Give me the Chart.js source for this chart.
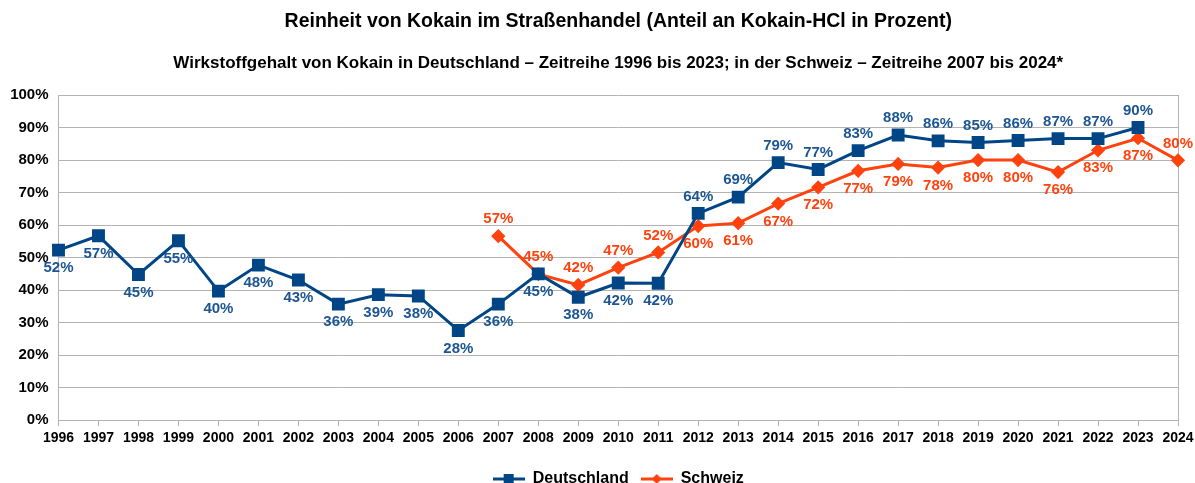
<!DOCTYPE html>
<html>
<head>
<meta charset="utf-8">
<script src="https://cdn.jsdelivr.net/npm/chart.js@4"></script>
<style>
  html, body { margin: 0; padding: 0; background: #fff; }
  #wrap { width: 1195px; height: 483px; }
</style>
</head>
<body>
<div id="wrap"><canvas id="myChart"></canvas></div>
<script>
const years = ['1996', '1997', '1998', '1999', '2000', '2001', '2002', '2003', '2004', '2005',
  '2006', '2007', '2008', '2009', '2010', '2011', '2012', '2013', '2014', '2015',
  '2016', '2017', '2018', '2019', '2020', '2021', '2022', '2023', '2024'];

const deutschland = [52.3, 56.7, 44.8, 55.2, 39.7, 47.7, 43.1, 35.7, 38.6, 38.2,
  27.6, 35.7, 45.0, 37.8, 42.2, 42.1, 63.6, 68.6, 79.2, 77.1,
  82.9, 87.7, 85.9, 85.4, 86.0, 86.6, 86.6, 90.0, null];

const schweiz = [null, null, null, null, null, null, null, null, null, null,
  null, 56.6, 44.9, 41.6, 46.9, 51.6, 59.7, 60.6, 66.6, 71.6,
  76.7, 78.8, 77.7, 80.0, 80.0, 76.3, 83.0, 86.7, 79.9];

const yTicks = [0, 10, 20, 30, 40, 50, 60, 70, 80, 90, 100];

const blue = '#004586';
const orange = '#ff420e';
const gridColor = '#b3b3b3';
const font = 'Liberation Sans, Arial, sans-serif';

// legend symbol: line with the marker in the middle
function legendIcon(color, shape) {
  const c = document.createElement('canvas');
  c.width = 32; c.height = 12;
  const g = c.getContext('2d');
  g.strokeStyle = color; g.lineWidth = 3;
  g.beginPath(); g.moveTo(0, 6); g.lineTo(32, 6); g.stroke();
  g.fillStyle = color;
  g.beginPath();
  if (shape === 'rect') {
    g.rect(11, 1, 10, 10);
  } else {
    g.moveTo(16, 1); g.lineTo(21, 6); g.lineTo(16, 11); g.lineTo(11, 6); g.closePath();
  }
  g.fill();
  return c;
}

// which side the value label sits on
function labelBelow(dsIndex, i) {
  const year = +years[i];
  if (dsIndex === 0) return year <= 2011;
  return year > 2011 && year < 2024;
}

const valueLabels = {
  id: 'valueLabels',
  afterDatasetsDraw(chart) {
    const ctx = chart.ctx;
    ctx.save();
    ctx.font = 'bold 15px ' + font;
    ctx.textAlign = 'center';
    ctx.textBaseline = 'middle';
    chart.data.datasets.forEach((ds, d) => {
      const meta = chart.getDatasetMeta(d);
      meta.data.forEach((pt, i) => {
        const v = ds.data[i];
        if (v === null) return;
        ctx.fillStyle = d === 0 ? '#1c5592' : orange;
        const dy = labelBelow(d, i) ? 18 : -17;
        ctx.fillText(Math.round(v) + '%', pt.x, pt.y + dy);
      });
    });
    ctx.restore();
  }
};

new Chart('myChart', {
  type: 'line',
  data: {
    labels: years,
    datasets: [
      {
        label: 'Deutschland',
        data: deutschland,
        borderColor: blue,
        backgroundColor: blue,
        borderWidth: 3,
        pointStyle: 'rect',
        pointRadius: 7,
        pointHoverRadius: 7,
        tension: 0,
      },
      {
        label: 'Schweiz',
        data: schweiz,
        borderColor: orange,
        backgroundColor: orange,
        borderWidth: 3,
        pointStyle: 'rectRot',
        pointRadius: 5,
        pointHoverRadius: 5,
        tension: 0,
      },
    ],
  },
  options: {
    responsive: true,
    maintainAspectRatio: false,
    animation: false,
    layout: { padding: { left: 0, right: 17, top: 0, bottom: -14 } },
    scales: {
      x: {
        offset: false,
        afterFit: (s) => { s.height = 38.8; s.paddingLeft = 0; s.paddingRight = 0; },
        grid: {
          color: (c) => (c.index === years.length - 1 ? gridColor : 'transparent'),
          tickColor: gridColor,
          tickLength: 6,
        },
        border: { color: gridColor },
        ticks: {
          color: '#000',
          font: { family: font, size: 14, weight: 'bold' },
          padding: 4,
          maxRotation: 0,
          autoSkip: false,
        },
      },
      y: {
        min: 0,
        max: 100,
        afterFit: (s) => { s.width = 58.5; },
        afterBuildTicks: (s) => { s.ticks = yTicks.map((v) => ({ value: v })); },
        grid: { color: gridColor, drawTicks: false },
        border: { color: gridColor },
        ticks: {
          color: '#000',
          font: { family: font, size: 15, weight: 'bold' },
          padding: 10,
          callback: (v) => v + '%',
        },
      },
    },
    plugins: {
      title: {
        display: true,
        fullSize: false,
        text: 'Reinheit von Kokain im Straßenhandel (Anteil an Kokain-HCl in Prozent)',
        color: '#000',
        font: { family: font, size: 19.5, weight: 'bold' },
        padding: { top: 10, bottom: 9 },
      },
      subtitle: {
        display: true,
        fullSize: false,
        text: 'Wirkstoffgehalt von Kokain in Deutschland – Zeitreihe 1996 bis 2023; in der Schweiz – Zeitreihe 2007 bis 2024*',
        color: '#000',
        font: { family: font, size: 17, weight: 'bold' },
        padding: { top: 10.7, bottom: 21.5 },
      },
      legend: {
        position: 'bottom',
        fullSize: false,
        labels: {
          color: '#000',
          font: { family: font, size: 16, weight: 'bold' },
          usePointStyle: true,
          pointStyleWidth: 32,
          padding: 12,
          generateLabels: (chart) => [
            { text: 'Deutschland', pointStyle: legendIcon(blue, 'rect'), fillStyle: blue, strokeStyle: blue, lineWidth: 0, datasetIndex: 0, fontColor: '#000' },
            { text: 'Schweiz', pointStyle: legendIcon(orange, 'diamond'), fillStyle: orange, strokeStyle: orange, lineWidth: 0, datasetIndex: 1, fontColor: '#000' },
          ],
        },
      },
      tooltip: { enabled: false },
    },
  },
  plugins: [valueLabels],
});
</script>
</body>
</html>
